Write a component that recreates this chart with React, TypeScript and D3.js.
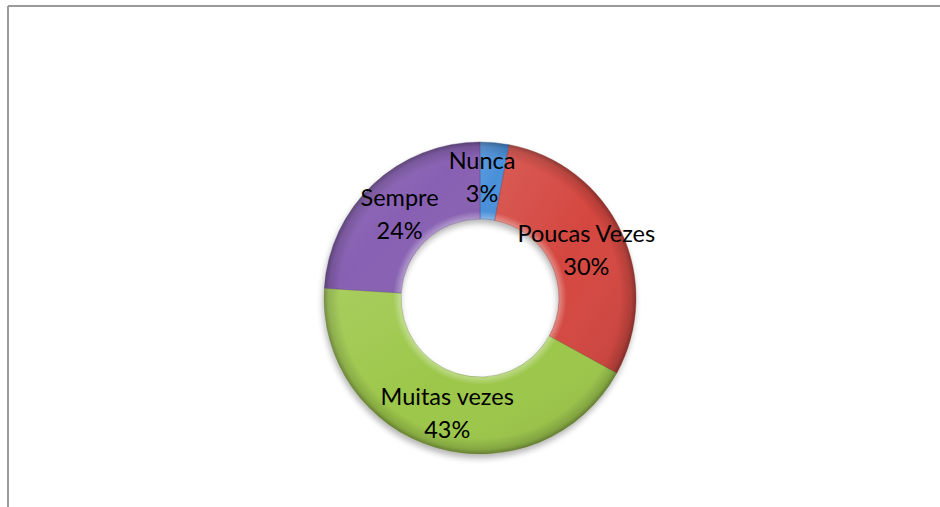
import React from "react";
import * as d3 from "d3";

const categories = ["Nunca", "Poucas Vezes", "Muitas vezes", "Sempre"];
const values = [3, 30, 43, 24];
const labels = ["3%", "30%", "43%", "24%"];
const colors = ["#4a90da", "#d4463f", "#9cc74a", "#8861b3"];

const W = 940;
const H = 507;
const cx = 480;
const cy = 298;
const outerR = 156;
const innerR = 79;

function lighten(c: string, k: number) {
  return d3.interpolateRgb(c, "#ffffff")(k);
}
function darken(c: string, k: number) {
  return d3.interpolateRgb(c, "#000000")(k);
}

export default function App() {
  const data = categories.map((c, i) => ({ name: c, value: values[i], label: labels[i], color: colors[i] }));
  const pie = d3
    .pie<any>()
    .sort(null)
    .value((d: any) => d.value)
    .startAngle(0)
    .endAngle(Math.PI * 2);
  const arcs = pie(data);
  const arc = d3.arc<any>().innerRadius(innerR).outerRadius(outerR);
  const fontSize = 23.5;
  const nudge: Record<string, [number, number]> = { Nunca: [-9, -6] };

  return (
    <svg
      width={W}
      height={H}
      style={{ position: "absolute", left: 0, top: 0, background: "#fff" }}
    >
      <defs>
        <filter id="shadow" x="-20%" y="-20%" width="140%" height="140%">
          <feGaussianBlur in="SourceAlpha" stdDeviation="3" />
          <feOffset dx="-1" dy="4" result="b" />
          <feComponentTransfer>
            <feFuncA type="linear" slope="0.3" />
          </feComponentTransfer>
          <feMerge>
            <feMergeNode />
            <feMergeNode in="SourceGraphic" />
          </feMerge>
        </filter>
        {data.map((d, i) => (
          <radialGradient
            key={i}
            id={`g${i}`}
            gradientUnits="userSpaceOnUse"
            cx={0}
            cy={0}
            r={outerR}
          >
            <stop offset={innerR / outerR} stopColor={lighten(d.color, 0.35)} />
            <stop offset={innerR / outerR + 0.05} stopColor={d.color} />
            <stop offset={0.9} stopColor={d.color} />
            <stop offset={0.97} stopColor={darken(d.color, 0.15)} />
            <stop offset={1} stopColor={darken(d.color, 0.35)} />
          </radialGradient>
        ))}
        <linearGradient id="sheen" x1="0" y1="0" x2="1" y2="1">
          <stop offset="0" stopColor="#ffffff" stopOpacity="0.12" />
          <stop offset="0.5" stopColor="#ffffff" stopOpacity="0" />
          <stop offset="1" stopColor="#000000" stopOpacity="0.1" />
        </linearGradient>
      </defs>
      <line x1={8} y1={6} x2={W + 5} y2={6} stroke="#9a9a9a" strokeWidth={2} />
      <line x1={8} y1={6} x2={8} y2={H + 5} stroke="#9a9a9a" strokeWidth={2} />
      <g transform={`translate(${cx},${cy})`}>
        <g filter="url(#shadow)">
          {arcs.map((a, i) => (
            <path
              key={i}
              d={arc(a) as string}
              fill={`url(#g${i})`}
              stroke={darken(colors[i], 0.4)}
              strokeOpacity={0.6}
              strokeWidth={0.6}
            />
          ))}
        </g>
        {arcs.map((a, i) => (
          <path key={"s" + i} d={arc(a) as string} fill="url(#sheen)" />
        ))}
        {arcs.map((a, i) => {
          const [x, y] = arc.centroid(a);
          const n = nudge[a.data.name] || [0, 0];
          return (
            <text
              key={"t" + i}
              x={x + n[0]}
              y={y + n[1]}
              textAnchor="middle"
              fontFamily="Lato, 'Open Sans', sans-serif"
              fontSize={fontSize}
              fill="#000"
            >
              <tspan x={x + n[0]} dy={-6}>
                {a.data.name}
              </tspan>
              <tspan x={x + n[0]} dy={33}>
                {a.data.label}
              </tspan>
            </text>
          );
        })}
      </g>
    </svg>
  );
}
